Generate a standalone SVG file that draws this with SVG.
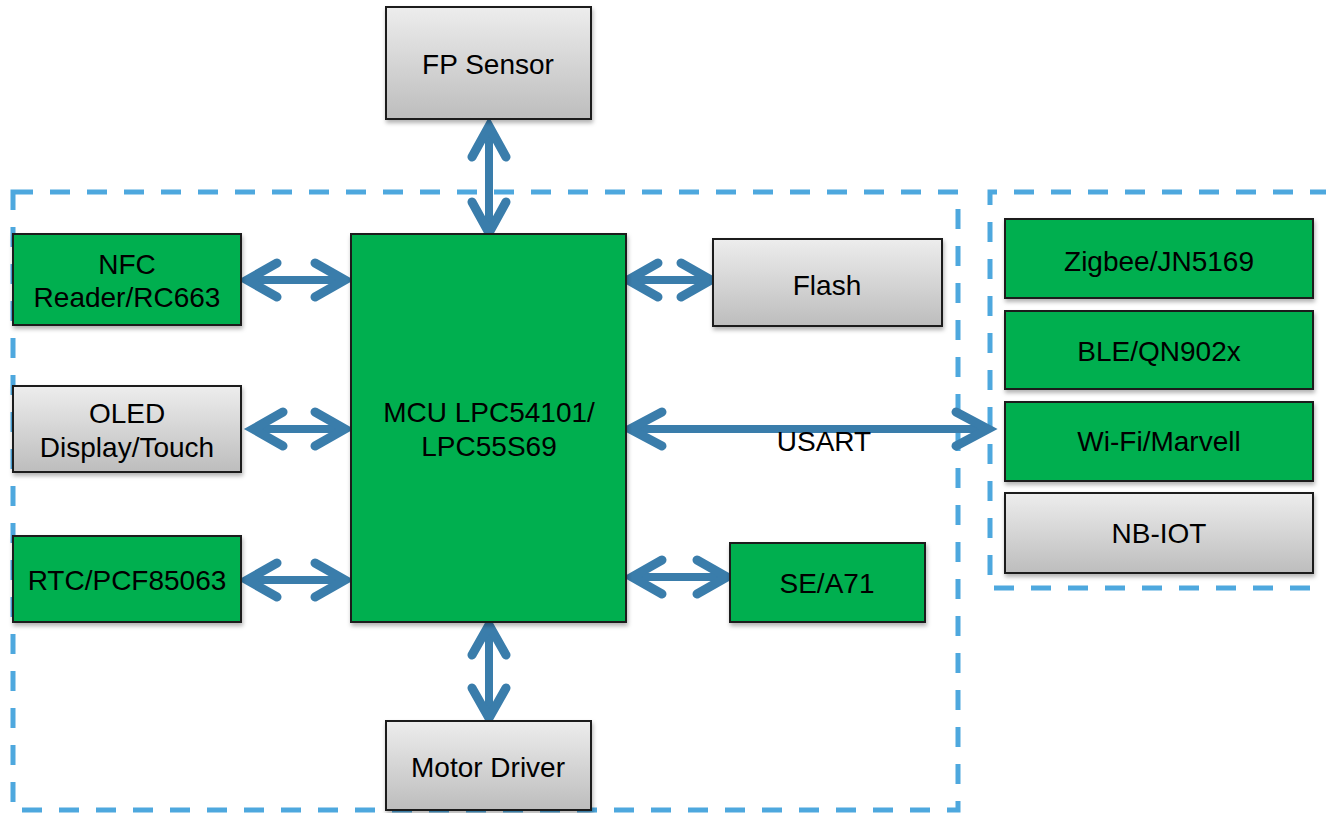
<svg xmlns="http://www.w3.org/2000/svg" width="1326" height="813" viewBox="0 0 1326 813">
<style>
.grp{fill:none;stroke:#4EA8DE;stroke-width:5;stroke-dasharray:20 17}
.box{stroke:#1a1a1a;stroke-width:2;filter:url(#sh)}
.g{fill:#00AF50}
.s{fill:url(#gray)}
.t{font-family:"Liberation Sans",Arial,sans-serif;font-size:28px;fill:#000;text-anchor:middle}
.ln{stroke:#3A7DAB;stroke-width:8;fill:none}
.hd{stroke:#3A7DAB;stroke-width:9;fill:none;stroke-linecap:round;stroke-linejoin:miter;stroke-miterlimit:10}
</style>
<defs>
<linearGradient id="gray" x1="0" y1="0" x2="0" y2="1">
<stop offset="0" stop-color="#EDEDED"/>
<stop offset="1" stop-color="#BDBDBD"/>
</linearGradient>
<filter id="sh" x="-10%" y="-10%" width="120%" height="130%">
<feDropShadow dx="1" dy="3" stdDeviation="2" flood-color="#000" flood-opacity="0.3"/>
</filter>
</defs>
<rect width="1326" height="813" fill="#fff"/>
<g id="groups">
<rect class="grp" x="13" y="192" width="945" height="618"/>
<path class="grp" d="M1310 588 H990 V192 H1330"/>
</g>
<g id="connectors">
<g id="c-fp"><line class="ln" x1="489" y1="132" x2="489" y2="226"/><path class="hd" d="M472 157 L489 126 L506 157"/><path class="hd" d="M472 202 L489 233 L506 202"/></g>
<g id="c-nfc"><line class="ln" x1="254" y1="280" x2="338" y2="280"/><path class="hd" d="M277 263 L247 280 L277 297"/><path class="hd" d="M315 263 L345 280 L315 297"/></g>
<g id="c-oled"><line class="ln" x1="260" y1="429" x2="338" y2="429"/><path class="hd" d="M283 412 L253 429 L283 446"/><path class="hd" d="M315 412 L345 429 L315 446"/></g>
<g id="c-rtc"><line class="ln" x1="254" y1="580" x2="338" y2="580"/><path class="hd" d="M277 563 L247 580 L277 597"/><path class="hd" d="M315 563 L345 580 L315 597"/></g>
<g id="c-flash"><line class="ln" x1="635" y1="280" x2="704" y2="280"/><path class="hd" d="M658 263 L628 280 L658 297"/><path class="hd" d="M681 263 L711 280 L681 297"/></g>
<g id="c-usart"><line class="ln" x1="637" y1="429" x2="981" y2="429"/><path class="hd" d="M662 412 L630 429 L662 446"/><path class="hd" d="M956 412 L988 429 L956 446"/><text class="t" x="824" y="451">USART</text></g>
<g id="c-se"><line class="ln" x1="639" y1="577" x2="720" y2="577"/><path class="hd" d="M662 560 L632 577 L662 594"/><path class="hd" d="M697 560 L727 577 L697 594"/></g>
<g id="c-motor"><line class="ln" x1="489" y1="632" x2="489" y2="711"/><path class="hd" d="M472 655 L489 625 L506 655"/><path class="hd" d="M472 688 L489 718 L506 688"/></g>
</g>
<g id="fp"><rect class="box s" x="386" y="7" width="205" height="112"/><text class="t" x="488" y="74">FP Sensor</text></g>
<g id="nfc"><rect class="box g" x="13" y="234" width="228" height="91"/><text class="t" x="127" y="274">NFC</text><text class="t" x="127" y="307">Reader/RC663</text></g>
<g id="oled"><rect class="box s" x="13" y="386" width="228" height="86"/><text class="t" x="127" y="423">OLED</text><text class="t" x="127" y="457">Display/Touch</text></g>
<g id="rtc"><rect class="box g" x="13" y="536" width="228" height="86"/><text class="t" x="127" y="590">RTC/PCF85063</text></g>
<g id="mcu"><rect class="box g" x="351" y="234" width="275" height="388"/><text class="t" x="489" y="422">MCU LPC54101/</text><text class="t" x="489" y="456">LPC55S69</text></g>
<g id="flash"><rect class="box s" x="713" y="239" width="229" height="87"/><text class="t" x="827" y="295">Flash</text></g>
<g id="se"><rect class="box g" x="730" y="543" width="195" height="79"/><text class="t" x="827" y="593">SE/A71</text></g>
<g id="motor"><rect class="box s" x="386" y="721" width="205" height="89"/><text class="t" x="488" y="777">Motor Driver</text></g>
<g id="zigbee"><rect class="box g" x="1005" y="219" width="308" height="79"/><text class="t" x="1159" y="271">Zigbee/JN5169</text></g>
<g id="ble"><rect class="box g" x="1005" y="311" width="308" height="78"/><text class="t" x="1159" y="361">BLE/QN902x</text></g>
<g id="wifi"><rect class="box g" x="1005" y="402" width="308" height="79"/><text class="t" x="1159" y="451">Wi-Fi/Marvell</text></g>
<g id="nbiot"><rect class="box s" x="1005" y="493" width="308" height="80"/><text class="t" x="1159" y="543">NB-IOT</text></g>
</svg>
